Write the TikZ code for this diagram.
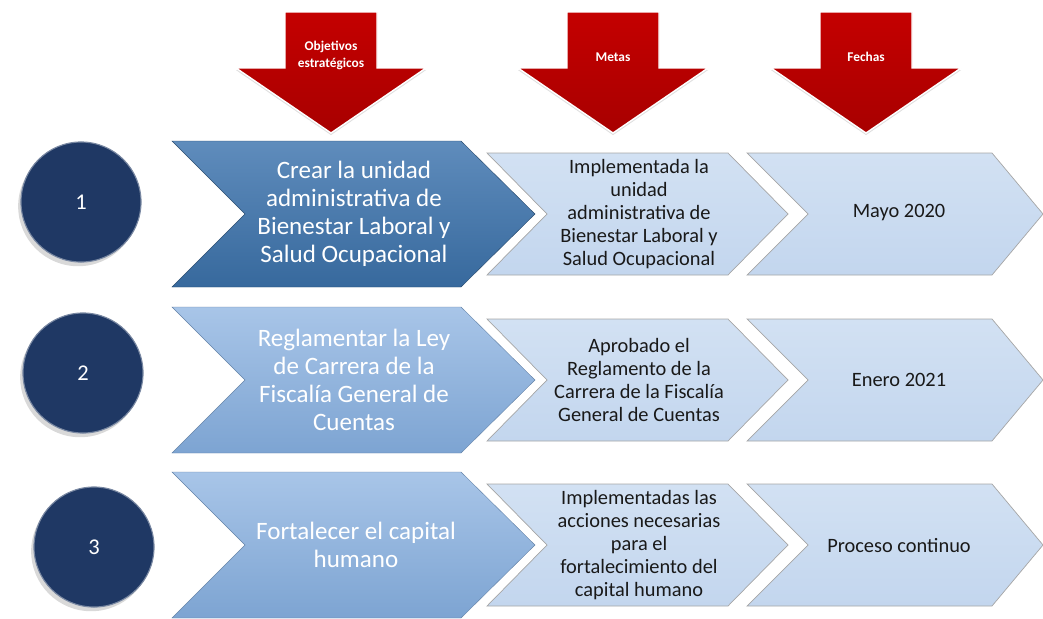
\documentclass[tikz,border=0pt]{standalone}
\usepackage{fontspec}
\setmainfont{Carlito}
\usetikzlibrary{shadows}

\definecolor{arrowred}{HTML}{C40000}
\definecolor{arrowdark}{HTML}{A80000}
\definecolor{navy}{HTML}{1F3864}
\definecolor{bigtop}{HTML}{5F8CBC}
\definecolor{bigbot}{HTML}{37699D}
\definecolor{lighttop}{HTML}{A8C5E8}
\definecolor{lightbot}{HTML}{7DA4D2}
\definecolor{paletop}{HTML}{D2E1F3}
\definecolor{palebot}{HTML}{C3D6EE}

\begin{document}
\begin{tikzpicture}[x=0.025cm,y=-0.025cm,
  downarrow/.style={top color=arrowred,bottom color=arrowdark,draw=white,line width=1pt,
    drop shadow={shadow xshift=0pt,shadow yshift=-1.5pt,opacity=0.25}},
  darkchevron/.style={top color=bigtop,bottom color=bigbot,draw=bigbot!70!black,line width=0.3pt},
  lightchevron/.style={top color=lighttop,bottom color=lightbot,draw=lightbot!80!black,line width=0.3pt},
  palechevron/.style={top color=paletop,bottom color=palebot,draw=gray!70,line width=0.5pt},
  ball/.style={circle,fill=navy,draw=navy!60!white,line width=0.8pt,minimum size=3cm,
    text=white,font=\fontsize{16}{18}\selectfont,
    drop shadow={shadow xshift=-2pt,shadow yshift=-3pt,opacity=0.3}},
  headlabel/.style={align=center,text=white,font=\fontsize{9.5}{12}\selectfont\bfseries},
  bigtext/.style={align=center,text=white,font=\fontsize{17.8}{19.8}\selectfont},
  smalltext/.style={align=center,text=black!90,font=\fontsize{14.5}{16.3}\selectfont}]
  \useasboundingbox (0,0) rectangle (1043,618);

  % Headers
  \foreach \cx in {331,613,866}
    \path[downarrow] (\cx-46,12) -- (\cx+46,12) -- (\cx+46,68) -- (\cx+95,68) -- (\cx,133)
      -- (\cx-95,68) -- (\cx-46,68) -- cycle;
  \node[headlabel] (objetivos) at (331,55) {Objetivos\\estratégicos};
  \node[headlabel] (metas) at (613,57) {Metas};
  \node[headlabel] (fechas) at (866,57) {Fechas};

  % Chevrons
  \path[darkchevron] (172,141) -- (461,141) -- (535,214) -- (461,287) -- (172,287) -- (245,214) -- cycle;
  \path[lightchevron] (172,307) -- (461,307) -- (535,380) -- (461,453) -- (172,453) -- (245,380) -- cycle;
  \path[lightchevron] (172,472) -- (461,472) -- (535,545) -- (461,618) -- (172,618) -- (245,545) -- cycle;
  \foreach \cy in {214,380,545} {
    \path[palechevron] (487,\cy-61) -- (728,\cy-61) -- (788,\cy) -- (728,\cy+61) -- (487,\cy+61)
      -- (547,\cy) -- cycle;
    \path[palechevron] (747,\cy-61) -- (992,\cy-61) -- (1043,\cy) -- (992,\cy+61) -- (747,\cy+61)
      -- (808,\cy) -- cycle;
  }

  % Numbers
  \node[ball] (uno) at (81,202) {1};
  \node[ball] (dos) at (83,373) {2};
  \node[ball] (tres) at (94,547) {3};

  % Objetivos
  \node[bigtext] (obj1) at (354,214) {Crear la unidad\\administrativa de\\Bienestar Laboral y\\Salud Ocupacional};
  \node[bigtext] (obj2) at (354,380) {Reglamentar la Ley\\de Carrera de la\\Fiscalía General de\\Cuentas};
  \node[bigtext] (obj3) at (356,545) {Fortalecer el capital\\humano};

  % Metas
  \node[smalltext] (meta1) at (639,214) {Implementada la\\unidad\\administrativa de\\Bienestar Laboral y\\Salud Ocupacional};
  \node[smalltext] (meta2) at (639,380) {Aprobado el\\Reglamento de la\\Carrera de la Fiscalía\\General de Cuentas};
  \node[smalltext] (meta3) at (639,545) {Implementadas las\\acciones necesarias\\para el\\fortalecimiento del\\capital humano};

  % Fechas
  \node[smalltext] (fecha1) at (899,213) {Mayo 2020};
  \node[smalltext] (fecha2) at (899,380) {Enero 2021};
  \node[smalltext] (fecha3) at (899,546) {Proceso continuo};
\end{tikzpicture}
\end{document}
